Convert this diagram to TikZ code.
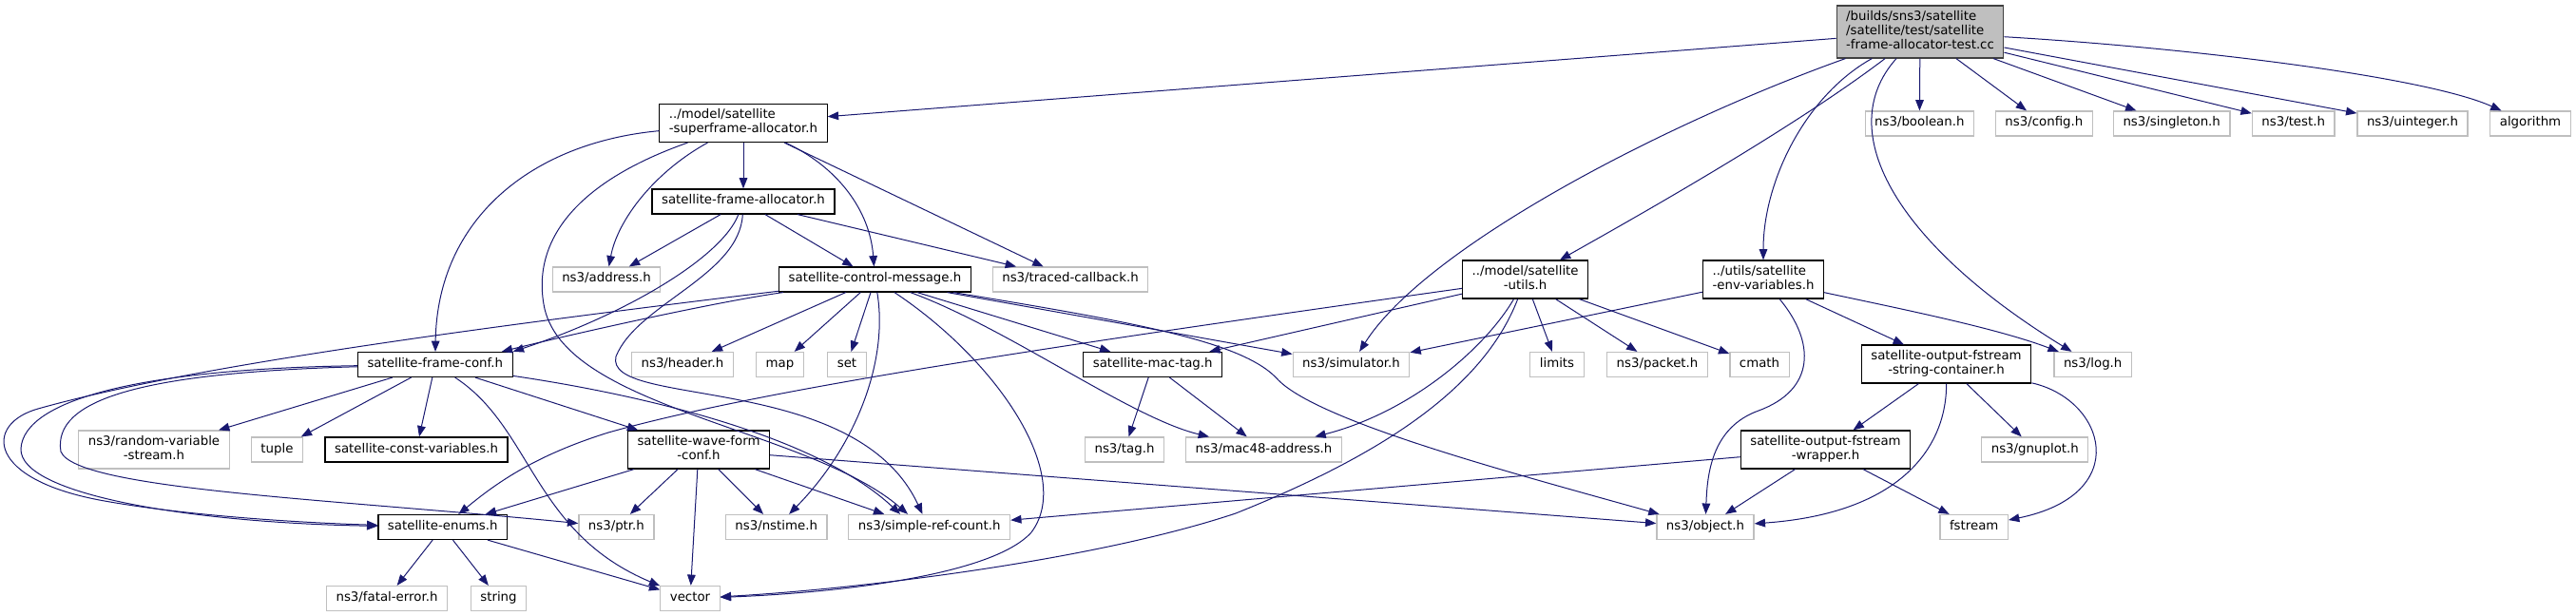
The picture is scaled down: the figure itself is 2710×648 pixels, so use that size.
\documentclass[tikz,border=0pt]{standalone}
\usepackage{fontspec}
\setmainfont{DejaVu Sans}
\usetikzlibrary{arrows.meta}
\definecolor{edgec}{HTML}{191970}
\definecolor{extc}{HTML}{BFBFBF}
\definecolor{mainc}{HTML}{BFBFBF}
\definecolor{mainln}{HTML}{404040}

\begin{document}
\begin{tikzpicture}[x=0.75pt, y=-0.75pt,
  filebox/.style={rectangle, inner xsep=7.5pt, inner ysep=1.5pt, minimum height=19.5pt,
                  font=\fontsize{10pt}{11.25pt}\selectfont, align=center,
                  execute at begin node=\strut, execute at end node=\strut},
  docfile/.style={filebox, draw=black, line width=0.9pt, fill=white},
  extfile/.style={filebox, draw=extc, line width=0.9pt, fill=white},
  mainfile/.style={filebox, draw=mainln, line width=0.9pt, fill=mainc, align=left,
                   minimum height=41.25pt},
  twolines/.style={minimum height=30pt},
  dep/.style={draw=edgec, line width=0.75pt, -{Triangle[length=8.5pt, width=6.5pt]}}]
  \useasboundingbox (0,0) rectangle (2710,648);
  % the test file
  \node[mainfile] (main) at (2020,33.5)
    {/builds/sns3/satellite\\/satellite/test/satellite\\-frame-allocator-test.cc};
  % rank 1
  \node[docfile, twolines, align=left] (sfalloc) at (782,129.5)
    {../model/satellite\\-superframe-allocator.h};
  \node[extfile] (boolean) at (2019.3,130) {ns3/boolean.h};
  \node[extfile] (config) at (2150.4,130) {ns3/config.h};
  \node[extfile] (singleton) at (2284.7,130) {ns3/singleton.h};
  \node[extfile] (test) at (2412.7,130) {ns3/test.h};
  \node[extfile] (uinteger) at (2538,130) {ns3/uinteger.h};
  \node[extfile] (algorithm) at (2662,130) {algorithm};
  % rank 2
  \node[docfile] (falloc) at (782,212) {satellite-frame-allocator.h};
  % rank 3
  \node[extfile] (address) at (638,294) {ns3/address.h};
  \node[docfile] (ctrlmsg) at (920.5,294) {satellite-control-message.h};
  \node[extfile] (traced) at (1126,294) {ns3/traced-callback.h};
  \node[docfile, twolines] (utils) at (1604.6,294) {../model/satellite\\-utils.h};
  \node[docfile, twolines, align=left] (envvars) at (1855,294)
    {../utils/satellite\\-env-variables.h};
  % rank 4
  \node[docfile] (frameconf) at (457.8,383.5) {satellite-frame-conf.h};
  \node[extfile] (header) at (718,383.5) {ns3/header.h};
  \node[extfile] (map) at (820.5,383.5) {map};
  \node[extfile] (set) at (891,383.5) {set};
  \node[docfile] (mactag) at (1212.7,383.5) {satellite-mac-tag.h};
  \node[extfile] (simulator) at (1421.5,383.5) {ns3/simulator.h};
  \node[extfile] (limits) at (1638,383.5) {limits};
  \node[extfile] (packet) at (1743.5,383.5) {ns3/packet.h};
  \node[extfile] (cmath) at (1851,383.5) {cmath};
  \node[docfile, twolines] (strcont) at (2047.5,383)
    {satellite-output-fstream\\-string-container.h};
  \node[extfile] (log) at (2201.7,383.5) {ns3/log.h};
  % rank 5
  \node[extfile, twolines] (rvstream) at (162,473) {ns3/random-variable\\-stream.h};
  \node[extfile] (tuple) at (291.5,473) {tuple};
  \node[docfile] (constvars) at (438,473) {satellite-const-variables.h};
  \node[docfile, twolines] (waveform) at (735,473) {satellite-wave-form\\-conf.h};
  \node[extfile] (tag) at (1183,473) {ns3/tag.h};
  \node[extfile] (mac48) at (1329.5,473) {ns3/mac48-address.h};
  \node[docfile, twolines] (wrapper) at (1920.5,473) {satellite-output-fstream\\-wrapper.h};
  \node[extfile] (gnuplot) at (2140.8,473) {ns3/gnuplot.h};
  % rank 6
  \node[docfile] (enums) at (465.8,554.5) {satellite-enums.h};
  \node[extfile] (ptr) at (648.4,554.5) {ns3/ptr.h};
  \node[extfile] (nstime) at (816.7,554.5) {ns3/nstime.h};
  \node[extfile] (refcount) at (977.7,554.5) {ns3/simple-ref-count.h};
  \node[extfile] (object) at (1794,554.5) {ns3/object.h};
  \node[extfile] (fstream) at (2076.7,554.5) {fstream};
  % rank 7
  \node[extfile] (fatal) at (407,629.5) {ns3/fatal-error.h};
  \node[extfile] (string) at (524.5,629.5) {string};
  \node[extfile] (vector) at (726,629.5) {vector};

  % includes of the test file
  \draw[dep] (main) -- (sfalloc);
  \draw[dep] (main) .. controls (1880,140) and (1700,240) .. (utils);
  \draw[dep] (main) .. controls (1900,100) and (1855,190) .. (envvars);
  \draw[dep] (main) .. controls (1750,130) and (1500,260) .. (simulator);
  \draw[dep] (main) .. controls (1925,140) and (2000,260) .. (log);
  \draw[dep] (main) -- (boolean);
  \draw[dep] (main) -- (config);
  \draw[dep] (main) -- (singleton);
  \draw[dep] (main) -- (test);
  \draw[dep] (main) -- (uinteger);
  \draw[dep] (main) .. controls (2300,50) and (2550,80) .. (algorithm);
  % superframe allocator
  \draw[dep] (sfalloc) -- (falloc);
  \draw[dep] (sfalloc) .. controls (690,180) and (650,230) .. (address);
  \draw[dep] (sfalloc) .. controls (560,150) and (460,230) .. (frameconf);
  \draw[dep] (sfalloc) .. controls (880,175) and (915,220) .. (ctrlmsg);
  \draw[dep] (sfalloc) -- (traced);
  \draw[dep] (sfalloc) .. controls (610,190) and (560,250) .. (572,320)
    .. controls (590,430) and (850,450) .. (refcount.149);
  % frame allocator
  \draw[dep] (falloc) -- (address);
  \draw[dep] (falloc) -- (ctrlmsg);
  \draw[dep] (falloc) -- (traced);
  \draw[dep] (falloc) .. controls (760,270) and (660,330) .. (frameconf.north east);
  \draw[dep] (falloc) .. controls (778,290) and (670,320) .. (648,375)
    .. controls (635,430) and (900,390) .. (refcount.118);
  % control message
  \draw[dep] (ctrlmsg) .. controls (750,318) and (600,352) .. (frameconf.11);
  \draw[dep] (ctrlmsg) .. controls (500,345) and (200,385) .. (40,430)
    .. controls (-17,446) and (-15,505) .. (110,527)
    .. controls (200,543) and (320,550) .. (enums);
  \draw[dep] (ctrlmsg) -- (header);
  \draw[dep] (ctrlmsg) -- (map);
  \draw[dep] (ctrlmsg) -- (set);
  \draw[dep] (ctrlmsg) .. controls (935,380) and (900,470) .. (nstime);
  \draw[dep] (ctrlmsg) .. controls (1050,380) and (1130,500) .. (1085,560)
    .. controls (1040,610) and (850,625) .. (vector);
  \draw[dep] (ctrlmsg) -- (mactag);
  \draw[dep] (ctrlmsg) .. controls (1060,345) and (1190,440) .. (mac48);
  \draw[dep] (ctrlmsg) -- (simulator);
  \draw[dep] (ctrlmsg) .. controls (1200,340) and (1310,360) .. (1345,400)
    .. controls (1390,445) and (1600,500) .. (object);
  \draw[dep] (mactag) -- (tag);
  \draw[dep] (mactag) -- (mac48);
  % frame conf
  \draw[dep] (frameconf) .. controls (150,388) and (25,420) .. (22,472)
    .. controls (20,520) and (200,550) .. (enums);
  \draw[dep] (frameconf) .. controls (150,392) and (55,420) .. (64,475)
    .. controls (80,515) and (350,525) .. (ptr);
  \draw[dep] (frameconf) -- (rvstream);
  \draw[dep] (frameconf) -- (tuple);
  \draw[dep] (frameconf) -- (constvars);
  \draw[dep] (frameconf) -- (waveform);
  \draw[dep] (frameconf) .. controls (560,450) and (560,560) .. (vector);
  \draw[dep] (frameconf) .. controls (640,410) and (850,450) .. (refcount.156);
  % utils
  \draw[dep] (utils) .. controls (1100,365) and (800,410) .. (640,455)
    .. controls (560,480) and (520,510) .. (enums);
  \draw[dep] (utils) -- (mactag);
  \draw[dep] (utils) .. controls (1560,370) and (1480,435) .. (mac48);
  \draw[dep] (utils) .. controls (1560,410) and (1450,480) .. (1300,540)
    .. controls (1150,590) and (900,620) .. (vector);
  \draw[dep] (utils) -- (limits);
  \draw[dep] (utils) -- (packet);
  \draw[dep] (utils) -- (cmath);
  % env variables
  \draw[dep] (envvars) -- (simulator);
  \draw[dep] (envvars) .. controls (1910,360) and (1910,410) .. (1850,432)
    .. controls (1800,450) and (1796,500) .. (object);
  \draw[dep] (envvars) -- (strcont);
  \draw[dep] (envvars) .. controls (2000,325) and (2100,345) .. (log);
  \draw[dep] (strcont) -- (wrapper);
  \draw[dep] (strcont) .. controls (2048,470) and (2000,540) .. (object);
  \draw[dep] (strcont) -- (gnuplot);
  \draw[dep] (strcont) .. controls (2215,420) and (2245,520) .. (fstream);
  \draw[dep] (wrapper) -- (refcount);
  \draw[dep] (wrapper) -- (object);
  \draw[dep] (wrapper) -- (fstream);
  % wave form conf
  \draw[dep] (waveform) -- (enums);
  \draw[dep] (waveform) -- (ptr);
  \draw[dep] (waveform) -- (vector);
  \draw[dep] (waveform) -- (nstime);
  \draw[dep] (waveform) -- (refcount.164);
  \draw[dep] (waveform) -- (object);
  % enums
  \draw[dep] (enums) -- (fatal);
  \draw[dep] (enums) -- (string);
  \draw[dep] (enums) -- (vector);
\end{tikzpicture}
\end{document}
